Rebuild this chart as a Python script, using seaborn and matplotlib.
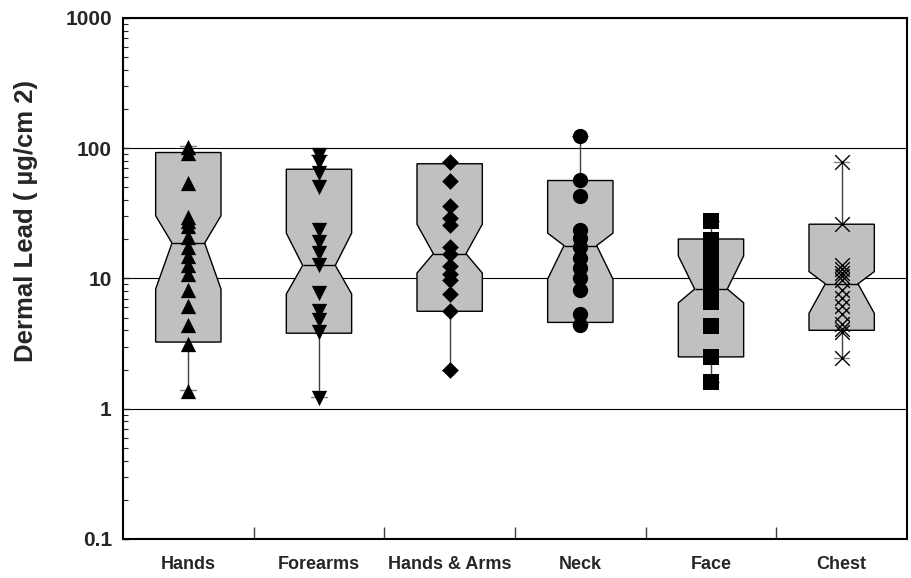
import numpy as np
import pandas as pd
import seaborn as sns
import matplotlib.pyplot as plt
from matplotlib.ticker import FixedLocator, LogLocator, NullFormatter

# categories and individual measurements (ug/cm2)
cats = ["Hands", "Forearms", "Hands & Arms", "Neck", "Face", "Chest"]
hands_pts = [103, 91.7, 54, 29.6, 27.4, 25.4, 20.8, 17.6, 14.8, 12.7, 10.9, 8.1, 6.2, 4.4, 3.15, 1.38]
forearms_pts = [89, 79, 64, 50, 23.6, 19.2, 15.7, 12.7, 7.7, 5.6, 4.8, 3.9, 1.21]
hands_arms_pts = [78.2, 56.2, 35.7, 29.1, 25.8, 17.6, 15.5, 12.4, 10.9, 9.7, 7.6, 5.6, 2.0]
neck_pts = [124.5, 57.2, 43.1, 23.6, 20.4, 17.6, 14.4, 12.0, 10.1, 8.2, 5.3, 4.4]
face_pts = [27.4, 19.9, 17.5, 15.5, 13.5, 12.0, 10.5, 9.3, 8.3, 7.4, 6.6, 4.3, 2.5, 1.6]
chest_pts = [79, 26.1, 12.6, 11.8, 11.0, 10.4, 9.8, 8.2, 7.1, 6.1, 5.3, 4.5, 4.1, 3.9, 2.45]

# box statistics
box_q1 = [3.25, 3.8, 5.6, 4.6, 2.5, 4.0]
box_med = [18.7, 12.6, 15.5, 17.9, 8.3, 9.1]
box_q3 = [92.7, 69, 76, 56.5, 20.1, 26.1]
notch_lo = [8.3, 7.6, 11.0, 9.9, 6.5, 5.4]
notch_hi = [30.3, 22.3, 26.1, 22.3, 14.9, 11.3]
whisk_lo = [1.4, 1.22, 2.0, 4.5, 1.6, 2.45]
whisk_hi = [104, 88, 78, 124.5, 27.4, 79]

ytick_vals = [0.1, 1, 10, 100, 1000]
ytick_labels = ["0.1", "1", "10", "100", "1000"]

point_sets = [hands_pts, forearms_pts, hands_arms_pts, neck_pts, face_pts, chest_pts]
markers = ["^", "v", "D", "o", "s", "x"]
sizes = [11, 11, 8.5, 11, 11, 10.5]

sns.set_theme(style="ticks")
plt.rcParams['font.family'] = ['Liberation Sans', 'DejaVu Sans']
plt.rcParams['font.weight'] = 'bold'

fig = plt.figure(figsize=(9.11, 5.78), dpi=100)
ax = fig.add_axes([0.135, 0.0675, 0.8606, 0.9014])

stats = []
for i, c in enumerate(cats):
    stats.append(dict(label=c, q1=box_q1[i], med=box_med[i], q3=box_q3[i],
                      cilo=notch_lo[i], cihi=notch_hi[i],
                      whislo=whisk_lo[i], whishi=whisk_hi[i], fliers=[]))

ax.bxp(stats, positions=range(len(cats)), widths=0.5, capwidths=0.12,
       shownotches=True, patch_artist=True, showfliers=False,
       boxprops=dict(facecolor="#c0c0c0", edgecolor="black", linewidth=1),
       medianprops=dict(color="black", linewidth=1),
       whiskerprops=dict(color="#404040", linewidth=1),
       capprops=dict(color="#808080", linewidth=1))

for cat, vals, mk, sz in zip(cats, point_sets, markers, sizes):
    lw = 1.0 if mk == "x" else 0
    sns.stripplot(x=[cat] * len(vals), y=vals, order=cats, jitter=False,
                  marker=mk, size=sz, color="black", linewidth=lw,
                  zorder=3, ax=ax)

ax.set_yscale("log")
ax.set_ylim(0.1, 1000)
ax.set_xlim(-0.5, 5.5)
ax.yaxis.set_major_locator(FixedLocator(ytick_vals))
ax.set_yticklabels(ytick_labels)
ax.yaxis.set_minor_locator(LogLocator(base=10, subs=np.arange(2, 10)))
ax.yaxis.set_minor_formatter(NullFormatter())
ax.grid(axis="y", which="major", color="black", linewidth=0.8)
ax.set_axisbelow(True)

ax.set_xticks(range(len(cats)))
ax.set_xticklabels(cats)
ax.xaxis.set_minor_locator(FixedLocator(np.arange(0.5, 5, 1)))
ax.tick_params(axis="x", which="major", length=0, pad=12, labelsize=13)
ax.tick_params(axis="x", which="minor", direction="in", length=8.5, width=1, color="#404040")
ax.tick_params(axis="y", which="major", direction="in", length=4, width=1, pad=8, labelsize=15)
ax.tick_params(axis="y", which="minor", direction="in", length=3.5, width=0.8)
for t in ax.get_xticklabels() + ax.get_yticklabels():
    t.set_fontweight("bold")
ax.set_xlabel("")
ax.set_ylabel("")
for s in ax.spines.values():
    s.set_linewidth(1.5)
    s.set_color("black")

fig.text(0.028, 0.618, "Dermal Lead ( µg/cm 2)", rotation=90, ha="center", va="center",
         fontsize=18.5, fontweight="bold")

fig.savefig("out.png", dpi=100)
